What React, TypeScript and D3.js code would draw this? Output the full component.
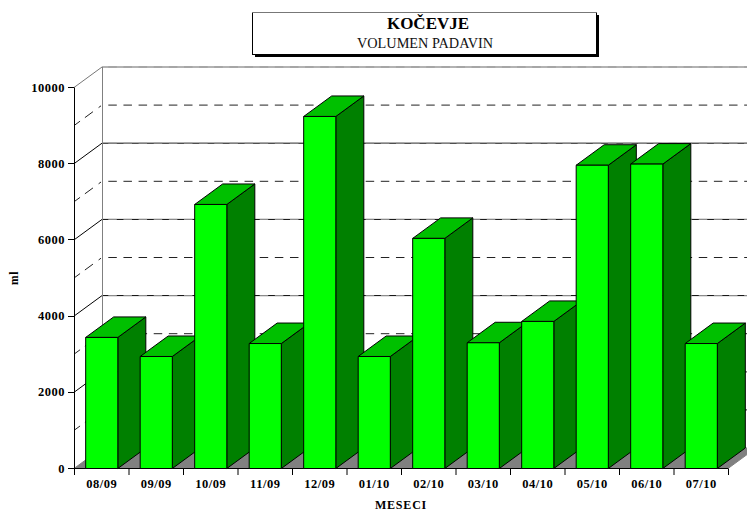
import React from "react";
import * as d3 from "d3";

const months = ["08/09","09/09","10/09","11/09","12/09","01/10","02/10","03/10","04/10","05/10","06/10","07/10"];
const rainfall = [3440,2940,6930,3280,9240,2940,6040,3300,3860,7960,7990,3280];
const majorTicks = [0,2000,4000,6000,8000,10000];
const minorTicks = [1000,3000,5000,7000,9000];

const W = 747, H = 511;
const x0 = 74, x1 = 728, yBase = 468.5, yTop = 87.5, dx = 28, dy = -20.5;
const wallDash = { strokeDasharray: "8.5 6.64", strokeDashoffset: 8.84 };

export default function App() {
  const y = d3.scaleLinear().domain([0,10000]).range([yBase,yTop]);
  const band = d3.scaleBand<string>().domain(months).range([x0+0.5,x1+0.5]).paddingInner(0.41).paddingOuter(0.205);
  const serif = "'Liberation Serif','Times New Roman',serif";
  const step = band.step();
  return (
    <svg width={W} height={H} viewBox={`0 0 ${W} ${H}`} style={{position:"absolute",left:0,top:0,display:"block"}} fontFamily={serif}>
      <rect width={W} height={H} fill="#fff"/>
      {/* title box */}
      <rect x={255} y={15} width={344} height={42} fill="#000"/>
      <rect x={252.5} y={12.5} width={344} height={42} fill="#fff" stroke="#000" strokeWidth={1}/>
      <line x1={252} x2={597} y1={12.5} y2={12.5} stroke="#777"/>
      <text x={428} y={29} textAnchor="middle" fontSize={17} fontWeight="bold">KOČEVJE</text>
      <text x={425} y={48} textAnchor="middle" fontSize={14} fill="#111" textLength={136} lengthAdjust="spacingAndGlyphs">VOLUMEN PADAVIN</text>

      {/* wall gridlines */}
      {minorTicks.map(t => (
        <g key={t} stroke="#222" strokeWidth={1}>
          <line x1={x0} y1={y(t)} x2={x0+dx} y2={y(t)+dy} strokeDasharray="7.5 6 10 7 3"/>
          <line x1={x0+dx} x2={W+10} y1={y(t)+dy} y2={y(t)+dy} {...wallDash}/>
        </g>
      ))}
      {majorTicks.slice(1).map(t => (
        <g key={t}>
          <line x1={x0} y1={y(t)} x2={x0+dx} y2={y(t)+dy} stroke={t===10000?"#777":"#000"}/>
          <line x1={x0+dx} x2={W+10} y1={y(t)+dy} y2={y(t)+dy} stroke={t===10000?"#666":"#000"}/>
          <line x1={x0+dx} x2={W+10} y1={y(t)+dy} y2={y(t)+dy} stroke="#999" {...wallDash}/>
        </g>
      ))}
      <line x1={x0+dx+0.5} x2={x0+dx+0.5} y1={yTop+dy} y2={yBase+dy} stroke="#808080"/>

      {/* floor */}
      <path d={`M${x0},${yBase}L${x0+dx},${yBase+dy}L${x1+dx},${yBase+dy}L${x1},${yBase}Z`} fill="#808080" stroke="#808080"/>

      {/* axes */}
      <line x1={x0+0.5} x2={x0+0.5} y1={yTop} y2={yBase+6.5} stroke="#000"/>
      <line x1={68} x2={x1} y1={yBase} y2={yBase} stroke="#000"/>
      {majorTicks.map(t => (
        <g key={t}>
          <line x1={68} x2={x0} y1={Math.round(y(t)-0.5)+0.5} y2={Math.round(y(t)-0.5)+0.5} stroke="#000"/>
          <text x={65} y={y(t)+4} textAnchor="end" fontSize={12.5} fontWeight="bold" letterSpacing={0.5}>{t}</text>
        </g>
      ))}
      {d3.range(months.length+1).map(i => (
        <line key={i} x1={x0+i*step+0.5} x2={x0+i*step+0.5} y1={yBase} y2={yBase+6.5} stroke="#000"/>
      ))}

      {/* bars */}
      {months.map((m,i) => {
        const bx = band(m)!, bw = band.bandwidth(), top = y(rainfall[i]);
        return (
          <g key={m} stroke="#000" strokeWidth={1} strokeLinejoin="round">
            <path d={`M${bx+bw},${yBase}L${bx+bw+dx},${yBase+dy}L${bx+bw+dx},${top+dy}L${bx+bw},${top}Z`} fill="#008000"/>
            <path d={`M${bx},${top}L${bx+dx},${top+dy}L${bx+bw+dx},${top+dy}L${bx+bw},${top}Z`} fill="#00c000"/>
            <rect x={bx} y={top} width={bw} height={yBase-top} fill="#00ff00"/>
            <text x={bx+bw/2} y={yBase+19} textAnchor="middle" fontSize={12.5} fontWeight="bold" stroke="none" fill="#000" letterSpacing={0.5}>{m}</text>
          </g>
        );
      })}

      <text x={401} y={509} textAnchor="middle" fontSize={12} fontWeight="bold" letterSpacing={0.8}>MESECI</text>
      <text transform="translate(18,278) rotate(-90)" textAnchor="middle" fontSize={11.5} fontWeight="bold" letterSpacing={0.6}>ml</text>
    </svg>
  );
}
